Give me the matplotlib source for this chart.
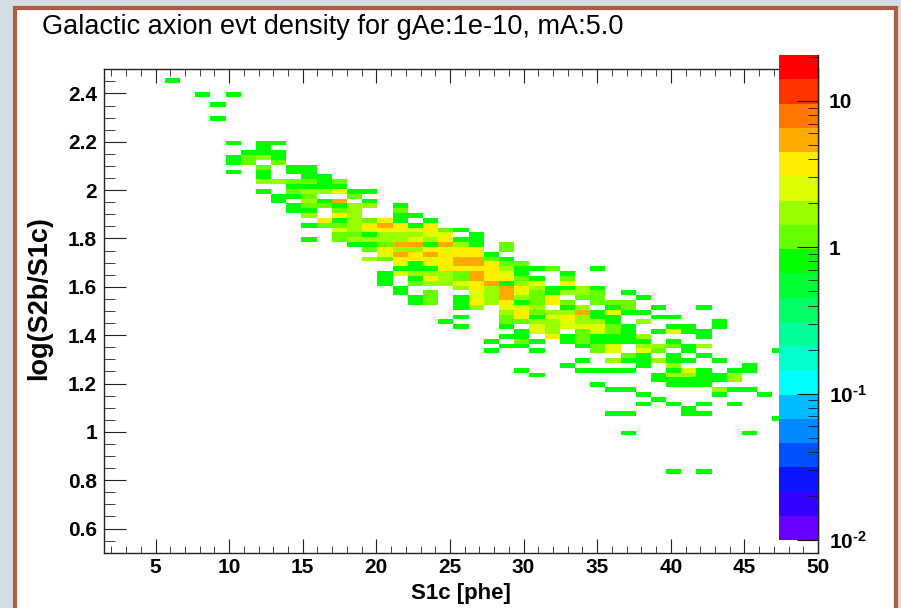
import numpy as np
import matplotlib
matplotlib.use("Agg")
import matplotlib.pyplot as plt
from matplotlib.colors import ListedColormap, LogNorm
from matplotlib.patches import Rectangle
from matplotlib.ticker import MultipleLocator, FixedLocator, FuncFormatter, NullFormatter, LogLocator

# log(S2b/S1c) bin centre of each populated row, top to bottom
log_rows = [2.455, 2.395, 2.355, 2.295, 2.195, 2.175, 2.155, 2.135, 2.115, 2.095,
            2.075, 2.055, 2.035, 2.015, 1.995, 1.975, 1.955, 1.935, 1.915, 1.895,
            1.875, 1.855, 1.835, 1.815, 1.795, 1.775, 1.755, 1.735, 1.715, 1.695,
            1.675, 1.655, 1.635, 1.615, 1.595, 1.575, 1.555, 1.535, 1.515, 1.495,
            1.475, 1.455, 1.435, 1.415, 1.395, 1.375, 1.355, 1.335, 1.315, 1.295,
            1.275, 1.255, 1.235, 1.215, 1.195, 1.175, 1.155, 1.135, 1.115, 1.095,
            1.075, 1.055, 0.995, 0.835]

# S1c bin centres filled in each row
s1c_rows = [
    [6.1],
    [8.2, 10.3],
    [9.2],
    [9.2],
    [10.3, 12.3, 13.4],
    [12.3],
    [11.3, 12.3, 13.4],
    [10.3, 11.3, 12.3, 13.4],
    [10.3, 11.3, 13.4],
    [12.3, 14.4, 15.4],
    [10.3, 12.3, 14.4, 15.4],
    [12.3, 15.4, 16.5],
    [12.3, 13.4, 14.4, 15.4, 16.5, 17.5],
    [14.4, 15.4, 16.5, 17.5],
    [12.3, 14.4, 15.4, 16.5, 17.5, 18.5, 19.6],
    [13.4, 14.4, 15.4, 18.5],
    [13.4, 15.4, 16.5, 17.5, 19.6],
    [14.4, 15.4, 16.5, 17.5, 18.5, 19.6, 21.6],
    [14.4, 15.4, 17.5, 18.5, 21.6],
    [15.4, 17.5, 18.5, 21.6, 22.7],
    [16.5, 17.5, 18.5, 19.6, 20.6, 21.6, 23.7],
    [15.4, 16.5, 17.5, 18.5, 19.6, 20.6, 21.6, 22.7, 23.7],
    [17.5, 18.5, 19.6, 20.6, 21.6, 22.7, 23.7, 24.7, 25.8],
    [17.5, 18.5, 19.6, 20.6, 21.6, 22.7, 23.7, 24.7, 26.8],
    [15.4, 17.5, 18.5, 19.6, 20.6, 21.6, 22.7, 23.7, 24.7, 25.8, 26.8],
    [18.5, 19.6, 20.6, 21.6, 22.7, 23.7, 24.7, 25.8, 26.8, 28.8],
    [19.6, 20.6, 21.6, 22.7, 23.7, 24.7, 25.8, 26.8, 28.8],
    [20.6, 21.6, 22.7, 23.7, 24.7, 25.8, 26.8, 27.8],
    [19.6, 20.6, 21.6, 22.7, 23.7, 24.7, 25.8, 26.8, 27.8, 28.8],
    [21.6, 22.7, 23.7, 24.7, 25.8, 26.8, 27.8, 28.8, 29.9],
    [21.6, 22.7, 23.7, 24.7, 25.8, 26.8, 27.8, 28.8, 29.9, 30.9, 31.9, 35.0],
    [20.6, 21.6, 22.7, 23.7, 24.7, 25.8, 26.8, 27.8, 28.8, 29.9, 33.0],
    [20.6, 22.7, 23.7, 24.7, 25.8, 26.8, 27.8, 28.8, 29.9, 30.9, 33.0],
    [20.6, 22.7, 23.7, 24.7, 25.8, 26.8, 27.8, 28.8, 29.9, 30.9, 33.0],
    [21.6, 25.8, 26.8, 27.8, 28.8, 29.9, 30.9, 31.9, 33.0, 34.0, 35.0],
    [21.6, 23.7, 26.8, 27.8, 28.8, 29.9, 30.9, 31.9, 33.0, 34.0, 35.0, 37.1],
    [22.7, 23.7, 25.8, 26.8, 27.8, 28.8, 29.9, 30.9, 31.9, 34.0, 35.0, 38.1],
    [22.7, 23.7, 25.8, 26.8, 27.8, 28.8, 29.9, 30.9, 31.9, 33.0, 35.0, 36.1, 37.1],
    [25.8, 26.8, 28.8, 29.9, 30.9, 33.0, 34.0, 36.1, 37.1, 39.2, 42.3],
    [28.8, 29.9, 30.9, 31.9, 33.0, 34.0, 35.0, 36.1, 37.1, 38.1],
    [25.8, 28.8, 29.9, 30.9, 31.9, 33.0, 34.0, 35.0, 36.1, 39.2, 40.2],
    [24.7, 28.8, 29.9, 30.9, 31.9, 33.0, 34.0, 35.0, 36.1, 38.1, 43.3],
    [25.8, 28.8, 30.9, 31.9, 33.0, 34.0, 35.0, 36.1, 37.1, 40.2, 41.2, 43.3],
    [29.9, 30.9, 31.9, 34.0, 35.0, 36.1, 37.1, 39.2, 40.2, 41.2, 42.3],
    [28.8, 29.9, 31.9, 33.0, 34.0, 35.0, 36.1, 37.1, 38.1, 42.3],
    [27.8, 29.9, 30.9, 33.0, 34.0, 35.0, 36.1, 37.1, 38.1, 40.2],
    [28.8, 29.9, 34.0, 35.0, 36.1, 38.1, 39.2, 40.2, 41.2, 42.3],
    [27.8, 30.9, 35.0, 36.1, 38.1, 39.2, 41.2, 47.4],
    [37.1, 38.1, 40.2, 42.3],
    [34.0, 36.1, 37.1, 38.1, 39.2, 40.2, 41.2, 43.3],
    [33.0, 38.1, 40.2, 45.4],
    [29.9, 34.0, 35.0, 36.1, 37.1, 40.2, 41.2, 42.3, 44.3, 45.4],
    [30.9, 39.2, 40.2, 41.2, 42.3, 43.3, 44.3],
    [39.2, 40.2, 41.2, 42.3, 43.3, 44.3],
    [35.0, 40.2, 41.2, 42.3],
    [36.1, 37.1, 43.3, 44.3, 45.4],
    [38.1, 43.3, 46.4],
    [39.2],
    [38.1, 40.2, 42.3, 44.3],
    [41.2],
    [36.1, 37.1, 41.2, 42.3],
    [47.4],
    [37.1, 45.4],
    [40.2, 42.3],
]

# event density in each of those bins
dens_rows = [
    [0.8],
    [0.8, 0.8],
    [0.8],
    [0.8],
    [0.8, 0.8, 0.8],
    [0.8],
    [0.8, 0.8, 0.8],
    [0.8, 1.2, 1.7, 0.8],
    [0.8, 1.2, 1.2],
    [1.2, 0.8, 0.8],
    [0.8, 0.8, 0.8, 0.8],
    [0.8, 0.8, 0.8],
    [1.7, 1.7, 1.2, 1.2, 0.8, 1.2],
    [0.8, 0.8, 0.8, 0.8],
    [0.8, 1.2, 1.7, 1.7, 2.5, 0.8, 0.8],
    [0.8, 0.8, 1.2, 1.2],
    [0.8, 1.7, 0.8, 5.4, 0.8],
    [0.8, 1.2, 1.2, 0.8, 1.7, 1.7, 0.8],
    [0.8, 0.8, 1.2, 1.7, 1.2],
    [1.7, 3.7, 1.7, 0.8, 0.8],
    [3.7, 0.8, 1.7, 1.2, 3.7, 0.8, 0.8],
    [0.8, 1.2, 1.2, 1.7, 3.7, 5.4, 3.7, 0.8, 3.7],
    [2.5, 1.7, 2.5, 3.7, 3.7, 2.5, 3.7, 1.2, 0.8],
    [1.2, 1.2, 0.8, 1.7, 1.7, 1.7, 2.5, 2.5, 0.8],
    [0.8, 1.2, 1.7, 1.7, 1.7, 1.7, 2.5, 1.7, 3.7, 0.8, 0.8],
    [0.8, 0.8, 1.2, 5.4, 5.4, 0.8, 5.4, 1.7, 0.8, 1.2],
    [1.2, 3.7, 1.7, 1.7, 3.7, 2.5, 3.7, 3.7, 1.2],
    [2.5, 5.4, 3.7, 5.4, 3.7, 3.7, 3.7, 0.8],
    [1.7, 1.2, 3.7, 3.7, 2.5, 3.7, 5.4, 5.4, 1.2, 0.8],
    [2.5, 0.8, 2.5, 3.7, 5.4, 5.4, 3.7, 1.2, 1.2],
    [0.8, 0.8, 0.8, 3.7, 3.7, 3.7, 3.7, 1.7, 0.8, 0.8, 1.2, 0.8],
    [0.8, 2.5, 1.7, 1.7, 1.7, 1.2, 5.4, 3.7, 2.5, 0.8, 0.8],
    [0.8, 0.8, 3.7, 1.7, 1.2, 5.4, 3.7, 3.7, 1.2, 0.8, 1.2],
    [0.8, 1.2, 1.7, 1.7, 2.5, 3.7, 5.4, 0.8, 1.7, 2.5, 3.7],
    [0.8, 1.7, 3.7, 1.7, 5.4, 3.7, 1.7, 0.8, 0.8, 1.7, 0.8],
    [0.8, 1.2, 2.5, 1.7, 5.4, 2.5, 1.2, 0.8, 1.7, 1.7, 1.2, 0.8],
    [0.8, 1.2, 0.8, 2.5, 1.7, 5.4, 1.7, 1.2, 3.7, 1.2, 1.2, 0.8],
    [0.8, 1.2, 0.8, 3.7, 1.7, 3.7, 0.8, 1.2, 3.7, 1.2, 1.2, 1.2, 1.2],
    [0.8, 1.7, 2.5, 2.5, 1.7, 0.8, 1.7, 0.8, 1.2, 0.8, 0.8],
    [1.7, 3.7, 1.2, 1.7, 1.7, 5.4, 0.8, 2.5, 0.8, 0.8],
    [0.8, 1.2, 3.7, 0.8, 2.5, 3.7, 1.7, 0.8, 0.8, 0.8, 0.8],
    [0.8, 1.2, 1.2, 1.7, 1.7, 2.5, 1.7, 1.7, 0.8, 1.7, 0.8],
    [0.8, 0.8, 2.5, 1.7, 2.5, 2.5, 2.5, 1.2, 0.8, 0.8, 0.8, 0.8],
    [0.8, 2.5, 1.7, 1.2, 2.5, 1.2, 0.8, 0.8, 2.5, 0.8, 0.8],
    [0.8, 0.8, 3.7, 0.8, 1.2, 0.8, 0.8, 0.8, 1.7, 0.8],
    [0.8, 1.2, 0.8, 0.8, 1.2, 0.8, 0.8, 0.8, 0.8, 0.8],
    [0.8, 0.8, 0.8, 1.2, 2.5, 1.7, 1.7, 1.2, 0.8, 1.7],
    [0.8, 0.8, 1.2, 2.5, 2.5, 1.2, 0.8, 0.8],
    [1.2, 0.8, 0.8, 0.8],
    [0.8, 1.7, 0.8, 0.8, 1.7, 0.8, 0.8, 0.8],
    [0.8, 0.8, 1.7, 0.8],
    [0.8, 0.8, 0.8, 0.8, 0.8, 0.8, 2.5, 0.8, 0.8, 0.8],
    [0.8, 0.8, 1.7, 1.7, 0.8, 0.8, 1.7],
    [0.8, 0.8, 0.8, 0.8, 0.8, 1.7],
    [0.8, 0.8, 0.8, 0.8],
    [0.8, 0.8, 1.7, 0.8, 0.8],
    [0.8, 0.8, 0.8],
    [0.8],
    [0.8, 0.8, 0.8, 0.8],
    [0.8],
    [0.8, 0.8, 0.8, 0.8],
    [0.8],
    [0.8, 0.8],
    [0.8, 0.8],
]

# ROOT style palette, 20 contour colours from low to high
palette = ['#6a00ff', '#3300ff', '#0a14ff', '#0050ff', '#0088ff',
           '#00bbff', '#00ffff', '#00ffcc', '#00ff99', '#00ff66',
           '#00ff33', '#00ff00', '#66ff00', '#99ff00', '#ddff00',
           '#ffee00', '#ffaa00', '#ff7700', '#ff3300', '#ff0000']

s1c = []
logr = []
dens = []
for y, xs, ws in zip(log_rows, s1c_rows, dens_rows):
    for x, w in zip(xs, ws):
        s1c.append(x)
        logr.append(y)
        dens.append(w)

plt.rcParams['font.family'] = ['Liberation Sans', 'DejaVu Sans']
plt.rcParams['mathtext.fontset'] = 'custom'
plt.rcParams['mathtext.rm'] = 'Liberation Sans:bold'
plt.rcParams['mathtext.bf'] = 'Liberation Sans:bold'
plt.rcParams['mathtext.it'] = 'Liberation Sans:bold'

W, H = 901, 608
fig = plt.figure(figsize=(W / 100, H / 100), dpi=100)
fig.patch.set_facecolor('#d3dde3')
fig.patches.append(Rectangle((15 / W, -0.1), (896 - 15) / W, 1.1 - 8 / H,
                             transform=fig.transFigure, facecolor='white',
                             edgecolor='#b05a42', linewidth=3, zorder=-10))

ax = fig.add_axes([104 / W, 1 - 552.7 / H, (818 - 104) / W, (552.7 - 69.3) / H])
xedges = np.linspace(1.5, 50, 48)
yedges = np.linspace(0.485, 2.505, 102)
cmap = ListedColormap(palette)
norm = LogNorm(vmin=0.01, vmax=20.6)
h, _, _, mesh = ax.hist2d(s1c, logr, bins=[xedges, yedges], weights=dens,
                          cmap=cmap, norm=norm, cmin=0.01)
ax.set_xlim(1.5, 50)
ax.set_ylim(0.5, 2.5)
ax.set_facecolor('white')
for sp in ax.spines.values():
    sp.set_color('#222222')
    sp.set_linewidth(1)

ax.xaxis.set_major_locator(MultipleLocator(5))
ax.xaxis.set_minor_locator(MultipleLocator(1))
ax.yaxis.set_major_locator(MultipleLocator(0.2))
ax.yaxis.set_minor_locator(MultipleLocator(0.05))
fmt = FuncFormatter(lambda v, p: '%g' % round(v, 2))
ax.xaxis.set_major_formatter(fmt)
ax.yaxis.set_major_formatter(fmt)
ax.tick_params(axis='x', which='both', direction='in', top=True, bottom=True,
               labelsize=15, pad=4, color='#222222')
ax.tick_params(axis='x', which='major', length=10)
ax.tick_params(axis='x', which='minor', length=5)
ax.tick_params(axis='y', which='both', direction='in', left=True, right=False,
               labelsize=15, pad=5, color='#222222')
ax.tick_params(axis='y', which='major', length=16)
ax.tick_params(axis='y', which='minor', length=8)
for lab in ax.get_xticklabels() + ax.get_yticklabels():
    lab.set_fontweight('bold')

# palette drawn on top of the frame, as ROOT does
cax = fig.add_axes([779 / W, 1 - 540 / H, 39 / W, 485 / H])
cb = fig.colorbar(mesh, cax=cax)
cb.outline.set_visible(False)
cax.yaxis.set_major_locator(FixedLocator([0.01, 0.1, 1, 10]))
cax.yaxis.set_minor_locator(LogLocator(base=10, subs=np.arange(2, 10)))
cax.yaxis.set_minor_formatter(NullFormatter())
labels = {0.01: r'$10^{\text{-2}}$', 0.1: r'$10^{\text{-1}}$', 1: '1', 10: '10'}
cax.yaxis.set_major_formatter(FuncFormatter(lambda v, p: labels.get(round(v, 2), '')))
cax.tick_params(which='both', direction='in', right=True, left=False,
                labelsize=15, pad=8, color='#111111')
cax.tick_params(which='major', length=15)
cax.tick_params(which='minor', length=7)
for lab in cax.get_yticklabels():
    lab.set_fontweight('bold')
cax.plot([1, 1], [0, 1], transform=cax.transAxes, color='#222222', lw=1, clip_on=False)

fig.text(42 / W, 1 - 27 / H, 'Galactic axion evt density for gAe:1e-10, mA:5.0',
         fontsize=19.5, ha='left', va='center')
fig.text(461 / W, 1 - 593 / H, 'S1c [phe]', fontsize=16, fontweight='bold',
         ha='center', va='center')
fig.text(39 / W, 1 - 298 / H, 'log(S2b/S1c)', fontsize=19.5, fontweight='bold',
         ha='center', va='center', rotation=90)

fig.savefig('out.png', dpi=100, facecolor=fig.get_facecolor())
